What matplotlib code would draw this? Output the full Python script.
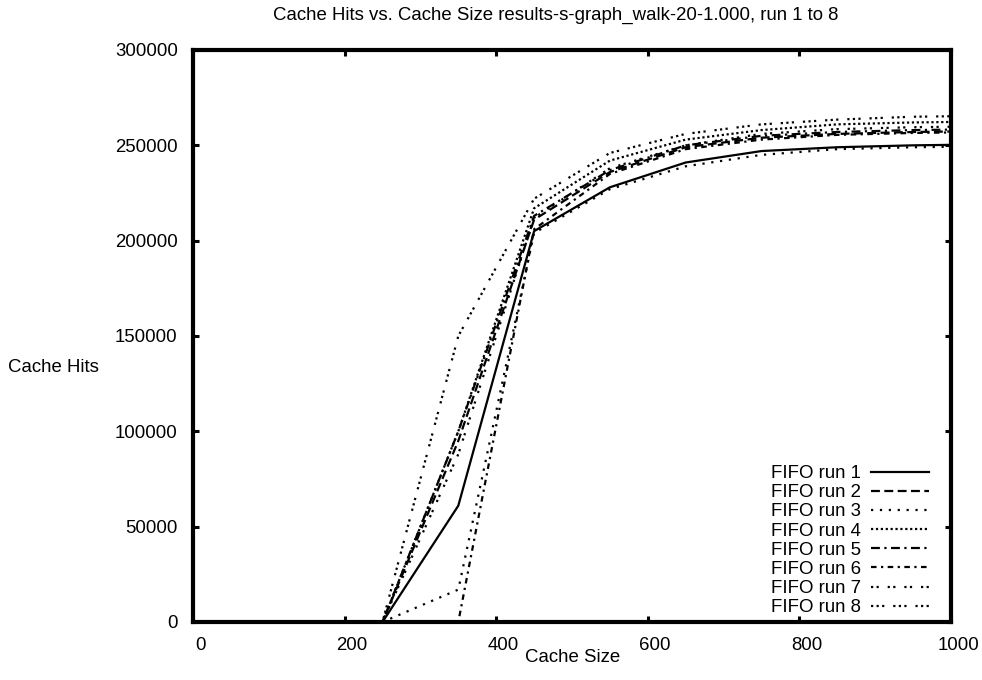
import matplotlib
matplotlib.use("Agg")
import matplotlib.pyplot as plt
import matplotlib.transforms as mtransforms

plt.rcParams['font.family'] = ['Liberation Sans', 'DejaVu Sans']

cache_size = [50, 150, 250, 350, 450, 550, 650, 750, 850, 950, 1050]
run1 = [0, 0, 0, 61000, 205000, 228000, 241000, 247000, 249000, 250000, 250500]
run2 = [0, 0, 0, 95000, 211000, 236000, 249000, 254000, 256000, 257000, 257500]
run3 = [0, 0, 0, 17000, 204000, 227000, 239000, 245000, 248000, 249000, 249500]
run4 = [0, 0, 0, 100000, 217000, 242000, 253000, 258000, 261000, 262000, 262500]
run5 = [0, 0, 0, 100000, 213000, 237000, 250000, 255000, 257000, 258000, 258500]
run6 = [0, 0, 0, 0, 206000, 235000, 248000, 253000, 255500, 256500, 257000]
run7 = [0, 0, 0, 88000, 212000, 238000, 250000, 256000, 258500, 259500, 260000]
run8 = [0, 0, 0, 150000, 222000, 246000, 256000, 261000, 263500, 265000, 265500]
labels = [f"FIFO run {i}" for i in range(1, 9)]

series = [run1, run2, run3, run4, run5, run6, run7, run8]
styles = ['-', (0, (4, 2)), (0, (1, 3)), (0, (1, 1.2)), (0, (4, 2, 1, 2)),
          (0, (2.5, 2, 1, 2)), (0, (1, 1.5, 1, 4)), (0, (1, 1.5, 1, 1.5, 1, 4))]

fig = plt.figure(figsize=(9.82, 6.8), dpi=100)
ax = fig.add_axes([193/982, 1-622/680, (951-193)/982, (622-50)/680])

for ys, ls, lab in zip(series, styles, labels):
    ax.plot(cache_size, ys, color='black', lw=1.6, linestyle=ls, label=lab,
            dash_capstyle='butt', solid_joinstyle='miter')

ax.set_xlim(0, 1000)
ax.set_ylim(0, 300000)
ax.set_xticks([0, 200, 400, 600, 800, 1000])
ax.set_yticks([0, 50000, 100000, 150000, 200000, 250000, 300000])
ax.set_yticklabels([str(v) for v in [0, 50000, 100000, 150000, 200000, 250000, 300000]])
ax.tick_params(direction='in', length=4.5, width=2.2, top=True, right=True,
               labelsize=13.4, pad=11)
ax.tick_params(axis='y', pad=11)
for sp in ax.spines.values():
    sp.set_linewidth(3)

off = mtransforms.ScaledTranslation(7/100, 0, fig.dpi_scale_trans)
for lbl in ax.get_xticklabels():
    lbl.set_transform(lbl.get_transform() + off)

fig.text(573/982, 1-657/680, "Cache Size", ha='center', va='center', fontsize=13.4)
fig.text(8/982, 1-368/680, "Cache Hits", ha='left', va='center', fontsize=13.4)
fig.text(556/982, 1-15/680, "Cache Hits vs. Cache Size results-s-graph_walk-20-1.000, run 1 to 8",
         ha='center', va='center', fontsize=13.4)

leg = ax.legend(loc='lower right', bbox_to_anchor=(0.99, -0.016), frameon=False,
                markerfirst=False, fontsize=13.4, labelspacing=0.115,
                handlelength=3.07, handletextpad=0.55, borderpad=0.3)

fig.savefig("out.png", dpi=100)
